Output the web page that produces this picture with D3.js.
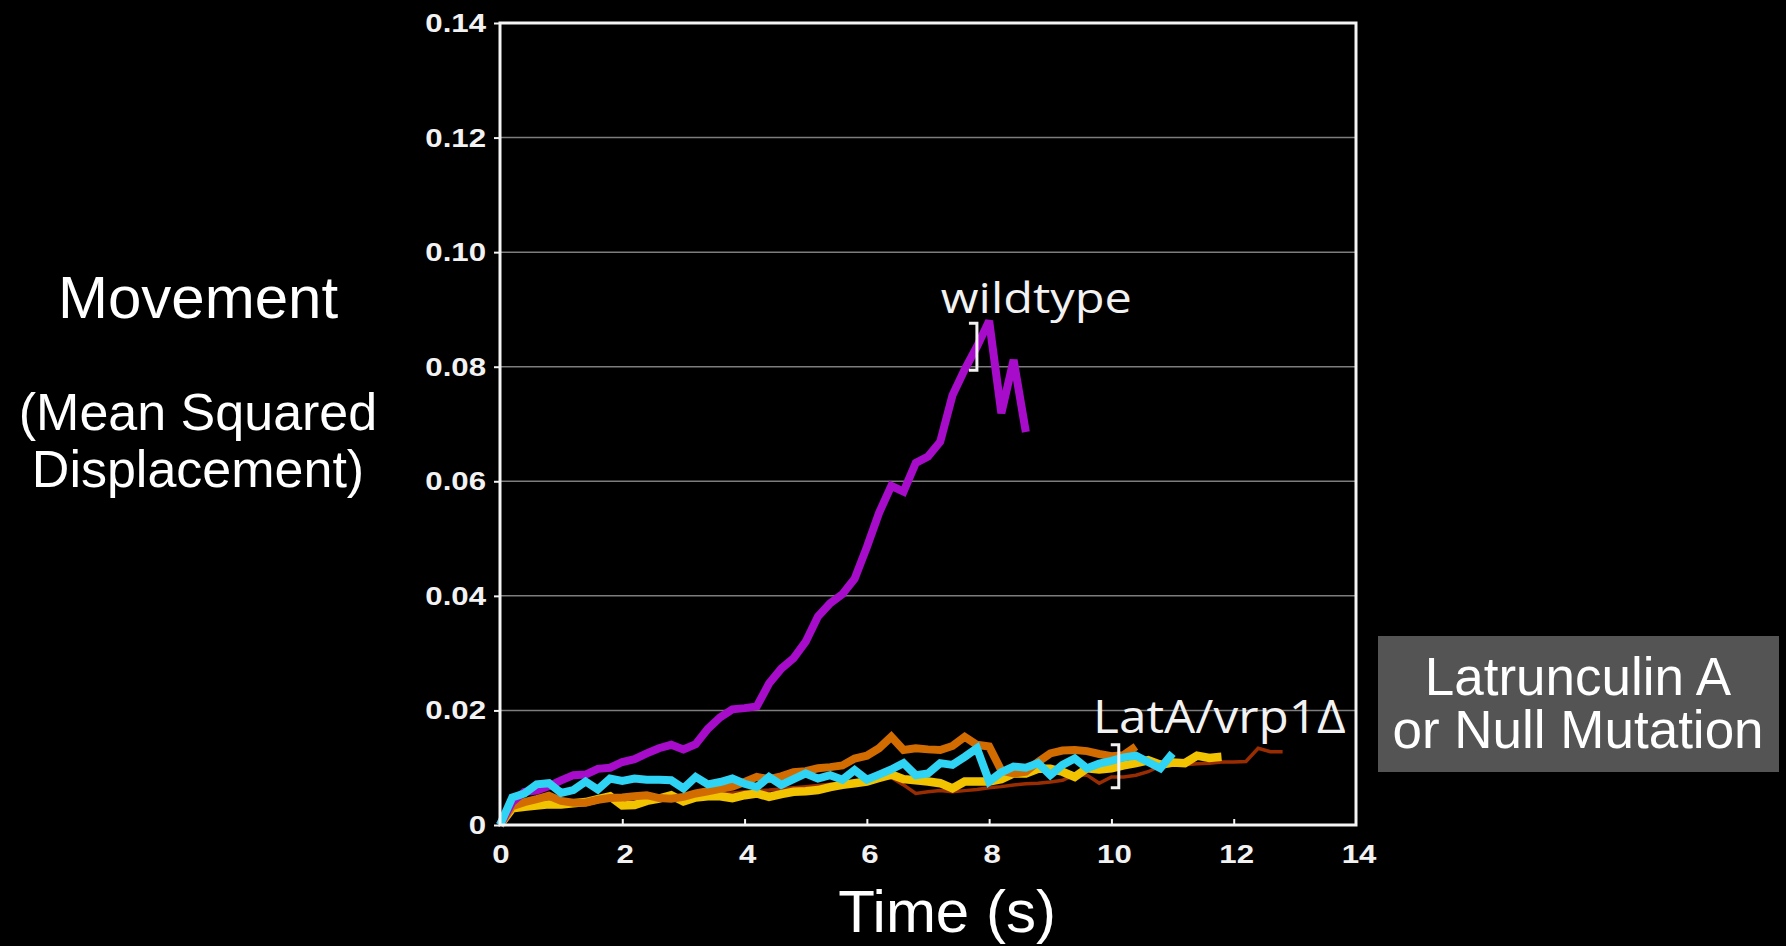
<!DOCTYPE html>
<html>
<head>
<meta charset="utf-8">
<script src="https://cdn.jsdelivr.net/npm/d3@7"></script>
<style>
  html, body { margin: 0; padding: 0; background: #000; overflow: hidden; }
  svg { display: block; }
</style>
</head>
<body>
<svg id="chart" width="1786" height="946"></svg>
<script>
// Sample times (s), one frame every 0.2 s
const timeS = [0, 0.2, 0.4, 0.6, 0.8, 1.0, 1.2, 1.4, 1.6, 1.8, 2.0, 2.2, 2.4, 2.6, 2.8, 3.0,
  3.2, 3.4, 3.6, 3.8, 4.0, 4.2, 4.4, 4.6, 4.8, 5.0, 5.2, 5.4, 5.6, 5.8, 6.0, 6.2, 6.4, 6.6,
  6.8, 7.0, 7.2, 7.4, 7.6, 7.8, 8.0, 8.2, 8.4, 8.6, 8.8, 9.0, 9.2, 9.4, 9.6, 9.8, 10.0, 10.2,
  10.4, 10.6, 10.8, 11.0, 11.2, 11.4, 11.6, 11.8, 12.0, 12.2, 12.4, 12.6, 12.8];

// Mean squared displacement per track (µm²)
const wildtype = [0, 0.0040, 0.0058, 0.0060, 0.0068, 0.0078, 0.0087, 0.0088, 0.0098, 0.0100,
  0.0110, 0.0115, 0.0125, 0.0134, 0.0140, 0.0132, 0.0141, 0.0168, 0.0188, 0.0202, 0.0204,
  0.0207, 0.0247, 0.0273, 0.0291, 0.0320, 0.0364, 0.0387, 0.0403, 0.0430, 0.0485, 0.0545,
  0.0592, 0.0582, 0.0632, 0.0643, 0.0669, 0.0750, 0.0795, 0.0835, 0.0880, 0.0719, 0.0812, 0.0686];

const mutantCyan = [0, 0.0048, 0.0055, 0.0071, 0.0073, 0.0056, 0.0061, 0.0076, 0.0062, 0.0081,
  0.0077, 0.0081, 0.0079, 0.0079, 0.0078, 0.0064, 0.0084, 0.0071, 0.0075, 0.0081, 0.0072,
  0.0066, 0.0084, 0.0070, 0.0080, 0.0090, 0.0081, 0.0087, 0.0079, 0.0096, 0.0079, 0.0088,
  0.0097, 0.0108, 0.0087, 0.0090, 0.0108, 0.0105, 0.0119, 0.0134, 0.0076, 0.0092, 0.0102,
  0.0100, 0.0108, 0.0087, 0.0105, 0.0116, 0.0099, 0.0107, 0.0112, 0.0118, 0.0121, 0.0110,
  0.0099, 0.0125];

const mutantOrange = [0, 0.0033, 0.0040, 0.0045, 0.0051, 0.0042, 0.0039, 0.0039, 0.0044, 0.0047,
  0.0048, 0.0050, 0.0052, 0.0047, 0.0046, 0.0049, 0.0055, 0.0059, 0.0063, 0.0067, 0.0075,
  0.0084, 0.0080, 0.0085, 0.0092, 0.0094, 0.0099, 0.0101, 0.0104, 0.0116, 0.0121, 0.0134,
  0.0154, 0.0131, 0.0134, 0.0132, 0.0131, 0.0138, 0.0154, 0.0140, 0.0137, 0.0095, 0.0090,
  0.0093, 0.0110, 0.0125, 0.0130, 0.0131, 0.0129, 0.0124, 0.0120, 0.0122, 0.0137];

const mutantYellow = [0, 0.0029, 0.0032, 0.0034, 0.0036, 0.0036, 0.0038, 0.0040, 0.0045, 0.0050,
  0.0034, 0.0035, 0.0042, 0.0046, 0.0052, 0.0041, 0.0048, 0.0050, 0.0050, 0.0047, 0.0052,
  0.0055, 0.0049, 0.0054, 0.0058, 0.0059, 0.0061, 0.0066, 0.0070, 0.0073, 0.0076, 0.0082,
  0.0088, 0.0080, 0.0078, 0.0076, 0.0073, 0.0064, 0.0076, 0.0076, 0.0076, 0.0080, 0.0090,
  0.0090, 0.0098, 0.0098, 0.0093, 0.0084, 0.0099, 0.0097, 0.0099, 0.0104, 0.0108, 0.0113,
  0.0105, 0.0109, 0.0108, 0.0121, 0.0117, 0.0119];

const mutantBrown = [0, 0.0030, 0.0035, 0.0038, 0.0040, 0.0040, 0.0039, 0.0041, 0.0043, 0.0045,
  0.0044, 0.0046, 0.0047, 0.0046, 0.0048, 0.0047, 0.0050, 0.0052, 0.0054, 0.0056, 0.0058,
  0.0060, 0.0061, 0.0063, 0.0065, 0.0067, 0.0069, 0.0071, 0.0073, 0.0076, 0.0078, 0.0081,
  0.0083, 0.0070, 0.0055, 0.0058, 0.0060, 0.0058, 0.0060, 0.0062, 0.0065, 0.0067, 0.0070,
  0.0072, 0.0073, 0.0075, 0.0078, 0.0088, 0.0087, 0.0073, 0.0084, 0.0084, 0.0087, 0.0093,
  0.0103, 0.0106, 0.0105, 0.0107, 0.0108, 0.0110, 0.0110, 0.0111, 0.0134, 0.0128, 0.0128];

// Axis ticks
const xTicks = [0, 2, 4, 6, 8, 10, 12, 14];
const yTicks = [0, 0.02, 0.04, 0.06, 0.08, 0.10, 0.12, 0.14];
const yTickLabels = ["0", "0.02", "0.04", "0.06", "0.08", "0.10", "0.12", "0.14"];

// Drawing order: back to front
const series = [
  { values: mutantBrown,  color: "#9a2c02", width: 3.5 },
  { values: mutantYellow, color: "#f2c300", width: 8.5 },
  { values: mutantOrange, color: "#d26c00", width: 8 },
  { values: wildtype,     color: "#a80ccb", width: 8 },
  { values: mutantCyan,   color: "#2fd3f3", width: 8 }
];

const svg = d3.select("#chart");
svg.append("rect").attr("width", 1786).attr("height", 946).attr("fill", "#000");

const x = d3.scaleLinear().domain([0, 14]).range([500, 1356]);
const y = d3.scaleLinear().domain([0, 0.14]).range([825, 23]);

// Horizontal gridlines
svg.append("g")
  .selectAll("line")
  .data(yTicks.filter(v => v > 0 && v < 0.14))
  .join("line")
  .attr("x1", x(0)).attr("x2", x(14))
  .attr("y1", d => y(d)).attr("y2", d => y(d))
  .attr("stroke", "#7d7d7d").attr("stroke-width", 1.5);

// Tracks
const line = d3.line()
  .x((d, i) => x(timeS[i]))
  .y(d => y(d));

svg.append("g")
  .selectAll("path")
  .data(series)
  .join("path")
  .attr("d", s => line(s.values))
  .attr("fill", "none")
  .attr("stroke", s => s.color)
  .attr("stroke-width", s => s.width)
  .attr("stroke-linejoin", "miter")
  .attr("stroke-miterlimit", 3);

// Frame
svg.append("rect")
  .attr("x", x(0)).attr("y", y(0.14))
  .attr("width", x(14) - x(0)).attr("height", y(0) - y(0.14))
  .attr("fill", "none").attr("stroke", "#f4f4f4").attr("stroke-width", 3);

// Tick marks: y outward, x inward
const yAxis = d3.axisLeft(y).tickValues(yTicks).tickSize(6).tickFormat("");
const gy = svg.append("g").attr("transform", `translate(${x(0)},0)`).call(yAxis);
gy.select(".domain").remove();
gy.selectAll("line").attr("stroke", "#f4f4f4").attr("stroke-width", 2);

const xAxis = d3.axisTop(x).tickValues(xTicks.filter(v => v > 0 && v < 14)).tickSize(6).tickFormat("");
const gx = svg.append("g").attr("transform", `translate(0,${y(0)})`).call(xAxis);
gx.select(".domain").remove();
gx.selectAll("line").attr("stroke", "#f4f4f4").attr("stroke-width", 2);

// Tick labels (wide bold face)
const tickFont = "'Liberation Sans', Arial, Helvetica, sans-serif";
svg.append("g")
  .selectAll("text")
  .data(yTicks)
  .join("text")
  .attr("transform", d => `translate(${x(0) - 14},${y(d) + 9}) scale(1.2,1)`)
  .attr("text-anchor", "end")
  .attr("font-family", tickFont).attr("font-weight", "bold").attr("font-size", 26)
  .attr("fill", "#f2f2f2")
  .text((d, i) => yTickLabels[i]);

svg.append("g")
  .selectAll("text")
  .data(xTicks)
  .join("text")
  .attr("transform", d => `translate(${x(d) + (d > 0 ? 3 : 1)},${y(0) + 38}) scale(1.2,1)`)
  .attr("text-anchor", "middle")
  .attr("font-family", tickFont).attr("font-weight", "bold").attr("font-size", 26)
  .attr("fill", "#f2f2f2")
  .text(d => d);

// Series annotations with brackets
const noteFont = "'Open Sans', 'Noto Sans', sans-serif";
function bracket(t, v1, v2) {
  const bx = x(t), y1 = y(v1), y2 = y(v2);
  svg.append("path")
    .attr("d", `M${bx - 8},${y1}H${bx}V${y2}H${bx - 8}`)
    .attr("fill", "none").attr("stroke", "#f2f2f2").attr("stroke-width", 3);
}
svg.append("text")
  .attr("transform", `translate(${x(7.21)},${y(0.0894)}) scale(1.16,1)`)
  .attr("font-family", noteFont).attr("font-size", 42).attr("fill", "#f2f2f2")
  .text("wildtype");
bracket(7.80, 0.0876, 0.0794);

svg.append("text")
  .attr("transform", `translate(${x(9.70)},${y(0.0161)}) scale(1.1,1)`)
  .attr("font-family", noteFont).attr("font-size", 45).attr("fill", "#f2f2f2")
  .text("LatA/vrp1Δ");
bracket(10.12, 0.0140, 0.0065);

// Slide captions
const capFont = "'Liberation Sans', Arial, Helvetica, sans-serif";
svg.append("text")
  .attr("x", 947).attr("y", 932).attr("text-anchor", "middle")
  .attr("font-family", capFont).attr("font-size", 60).attr("fill", "#fff")
  .text("Time (s)");

svg.append("text")
  .attr("x", 198).attr("y", 318).attr("text-anchor", "middle")
  .attr("font-family", capFont).attr("font-size", 60).attr("fill", "#fff")
  .text("Movement");

const subtitle = svg.append("text")
  .attr("text-anchor", "middle")
  .attr("font-family", capFont).attr("font-size", 52).attr("fill", "#fff");
subtitle.append("tspan").attr("x", 198).attr("y", 430).text("(Mean Squared");
subtitle.append("tspan").attr("x", 198).attr("y", 487).text("Displacement)");

// Condition box
svg.append("rect")
  .attr("x", 1378).attr("y", 636).attr("width", 401).attr("height", 136)
  .attr("fill", "#545454");
const boxText = svg.append("text")
  .attr("text-anchor", "middle")
  .attr("font-family", capFont).attr("font-size", 53).attr("fill", "#fff");
boxText.append("tspan").attr("x", 1578).attr("y", 695).text("Latrunculin A");
boxText.append("tspan").attr("x", 1578).attr("y", 748).text("or Null Mutation");
</script>
</body>
</html>
